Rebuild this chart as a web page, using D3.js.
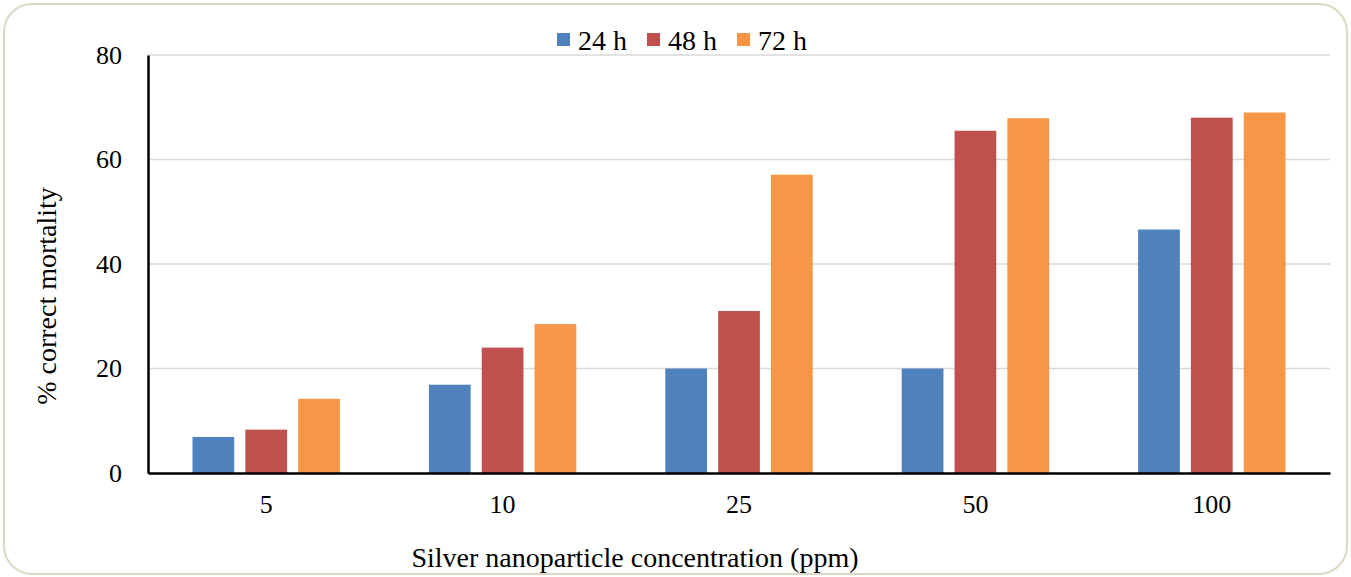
<!DOCTYPE html>
<html><head><meta charset="utf-8">
<script src="https://cdn.jsdelivr.net/npm/d3@7"></script>
<style>body{margin:0;background:#fff;} text{font-family:"Liberation Serif","DejaVu Serif",serif;fill:#000;}</style>
</head><body>
<svg id="c" width="1351" height="577"></svg>
<script>
const categories = ["5","10","25","50","100"];
const seriesNames = ["24 h","48 h","72 h"];
const s24 = [6.9, 16.9, 20.0, 20.0, 46.6];
const s48 = [8.3, 24.0, 31.0, 65.5, 68.0];
const s72 = [14.2, 28.5, 57.1, 67.9, 69.0];
const yTicks = [0, 20, 40, 60, 80];
const colors = ["#4f81bd", "#c0504d", "#f79646"];
const series = [s24, s48, s72];

const svg = d3.select("#c");
svg.append("rect").attr("x",4).attr("y",4).attr("width",1343).attr("height",570)
  .attr("rx",28).attr("fill","#fff").attr("stroke","#ddd9c3").attr("stroke-width",2);

const L=148, R=1330, T=55, B=473;
const x = d3.scaleBand().domain(categories).range([L,R]).paddingInner(0).paddingOuter(0);
const x1 = d3.scaleBand().domain(seriesNames).range([44.5, x.bandwidth()-44.5]).paddingInner(0.21).paddingOuter(0);
const y = d3.scaleLinear().domain([0,80]).range([B,T]);

// gridlines
svg.append("g").selectAll("line").data(yTicks.filter(d=>d>0)).join("line")
  .attr("x1",L).attr("x2",R).attr("y1",d=>y(d)).attr("y2",d=>y(d))
  .attr("stroke","#d9d9d9").attr("stroke-width",1.5);

// bars
const g = svg.append("g");
series.forEach((vals,si)=>{
  g.selectAll(null).data(vals).join("rect")
    .attr("x",(d,i)=>x(categories[i])+x1(seriesNames[si]))
    .attr("width",x1.bandwidth())
    .attr("y",d=>y(d)).attr("height",d=>y(0)-y(d))
    .attr("fill",colors[si]);
});

// y axis
const ya = svg.append("g").attr("transform",`translate(${L},0)`)
  .call(d3.axisLeft(y).tickValues(yTicks).tickSize(0).tickPadding(26));
ya.select(".domain").attr("stroke","#000").attr("stroke-width",2.5);
ya.selectAll("text").attr("font-size",26).style("font-family","Liberation Serif, serif");

// x axis
const xa = svg.append("g").attr("transform",`translate(0,${B})`)
  .call(d3.axisBottom(x).tickSize(0).tickPadding(22));
xa.select(".domain").attr("stroke","#000").attr("stroke-width",2.5);
xa.selectAll("text").attr("font-size",26).style("font-family","Liberation Serif, serif");

// axis titles
svg.append("text").attr("x",635).attr("y",567).attr("text-anchor","middle")
  .attr("font-size",28).text("Silver nanoparticle concentration (ppm)");
svg.append("text").attr("transform","translate(56,296) rotate(-90)").attr("text-anchor","middle")
  .attr("font-size",28).text("% correct mortality");

// legend
const lg = svg.append("g");
const lx = [557, 647, 737];
seriesNames.forEach((n,i)=>{
  lg.append("rect").attr("x",lx[i]).attr("y",33).attr("width",13).attr("height",13).attr("fill",colors[i]);
  lg.append("text").attr("x",lx[i]+21).attr("y",50).attr("font-size",28).text(n);
});
</script>
</body></html>
